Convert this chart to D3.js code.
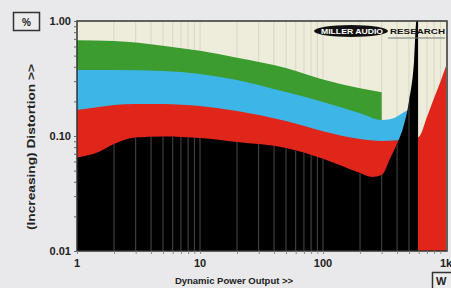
<!DOCTYPE html>
<html>
<head>
<meta charset="utf-8">
<script src="https://cdn.jsdelivr.net/npm/d3@7"></script>
<style>
html, body { margin: 0; padding: 0; background: #e9e9eb; }
svg { display: block; font-family: "Liberation Sans", Arial, sans-serif; font-weight: bold; }
</style>
</head>
<body>
<svg width="451" height="288"></svg>
<script>
// power (W) and distortion (fraction shown as %)
const greenW = [1, 2, 5, 10, 20, 50, 100, 200, 300];
const greenD = [0.68, 0.67, 0.61, 0.55, 0.48, 0.39, 0.31, 0.26, 0.24];

const blueW = [1, 2, 5, 10, 20, 50, 100, 200, 300, 350, 400, 450, 500, 560];
const blueD = [0.375, 0.375, 0.367, 0.346, 0.307, 0.241, 0.198, 0.158, 0.138, 0.14, 0.148, 0.16, 0.168, 0.17];

const redW = [1, 1.5, 2, 3, 5, 10, 20, 50, 100, 200, 300, 400, 500, 600, 700, 800, 900, 1000];
const redD = [0.168, 0.179, 0.186, 0.19, 0.19, 0.182, 0.165, 0.135, 0.11, 0.094, 0.0905, 0.092, 0.094, 0.098, 0.146, 0.214, 0.295, 0.406];

const blackW = [1, 1.5, 2, 3, 5, 10, 20, 50, 100, 200, 250, 300, 350, 400, 450, 500, 550, 575, 592];
const blackD = [0.065, 0.0726, 0.085, 0.097, 0.099, 0.096, 0.0885, 0.0787, 0.0635, 0.0477, 0.044, 0.0458, 0.063, 0.086, 0.12, 0.2, 0.45, 1.0, 1.0];

const xTicks = [1, 10, 100, 1000];
const xTickLabels = ["1", "10", "100", "1k"];
const yTicks = [0.01, 0.1, 1];
const yTickLabels = ["0.01", "0.10", "1.00"];

const svg = d3.select("svg");
const pLeft = 77, pRight = 447, pTop = 21, pBottom = 251;

const x = d3.scaleLog().domain([1, 1000]).range([pLeft, 446]);
const y = d3.scaleLog().domain([0.01, 1]).range([pBottom, pTop]);

// minor positions for log grid
const minorX = [];
[1, 10, 100].forEach(k => { for (let m = 1; m <= 9; m++) if (m * k > 1) minorX.push(m * k); });
const minorY = [];
[0.01, 0.1].forEach(k => { for (let m = 1; m <= 9; m++) minorY.push(m * k); });

const defs = svg.append("defs");
defs.append("clipPath").attr("id", "plot")
  .append("rect").attr("x", pLeft).attr("y", pTop).attr("width", pRight - pLeft).attr("height", pBottom - pTop);

const g = svg.append("g").attr("clip-path", "url(#plot)");

g.append("rect").attr("x", pLeft).attr("y", pTop).attr("width", pRight - pLeft).attr("height", pBottom - pTop)
  .attr("fill", "#eeeddc");

g.selectAll(".gridBg").data(minorX).enter().append("line")
  .attr("x1", d => x(d)).attr("x2", d => x(d)).attr("y1", pTop).attr("y2", pBottom)
  .attr("stroke", "#d8d7c6").attr("stroke-width", 1);

const area = d3.area()
  .x(d => x(d[0]))
  .y0(pBottom)
  .y1(d => y(Math.min(d[1], 1)))
  .curve(d3.curveMonotoneX);

const series = [
  { w: greenW, d: greenD, color: "#3c9c30" },
  { w: blueW, d: blueD, color: "#3db5e6" },
  { w: redW, d: redD, color: "#e0261b" },
  { w: blackW, d: blackD, color: "#000000" }
];

series.forEach(s => {
  g.append("path")
    .datum(d3.zip(s.w, s.d))
    .attr("d", area)
    .attr("fill", s.color);
});

// grid lines show through the black area
defs.append("clipPath").attr("id", "blackClip")
  .append("path").attr("d", area(d3.zip(blackW, blackD)));

g.append("g").attr("clip-path", "url(#blackClip)")
  .selectAll("line").data(minorX).enter().append("line")
  .attr("x1", d => x(d)).attr("x2", d => x(d)).attr("y1", pTop).attr("y2", pBottom)
  .attr("stroke", "#4a4a4a").attr("stroke-width", 1);

// border
svg.append("rect").attr("x", pLeft).attr("y", pTop).attr("width", pRight - pLeft).attr("height", pBottom - pTop)
  .attr("fill", "none").attr("stroke", "#333").attr("stroke-width", 1.5);

// axes
const yAxis = svg.append("g").attr("transform", `translate(${pLeft},0)`)
  .call(d3.axisLeft(y).tickValues(minorY.concat([1])).tickSize(3).tickFormat(""));
yAxis.select(".domain").remove();
yAxis.selectAll("line").attr("stroke", "#666");

const xAxis = svg.append("g").attr("transform", `translate(0,${pBottom})`)
  .call(d3.axisBottom(x).tickValues(minorX.concat([1])).tickSize(3).tickFormat(""));
xAxis.select(".domain").remove();
xAxis.selectAll("line").attr("stroke", "#888");

svg.selectAll(".ylab").data(yTicks).enter().append("text")
  .attr("x", 71).attr("y", d => y(d) + 4).attr("text-anchor", "end")
  .attr("font-size", 11).attr("fill", "#222")
  .text((d, i) => yTickLabels[i]);

svg.selectAll(".xlab").data(xTicks).enter().append("text")
  .attr("x", d => x(d)).attr("y", 267).attr("text-anchor", "middle")
  .attr("font-size", 11).attr("fill", "#222")
  .text((d, i) => xTickLabels[i]);

svg.append("text").attr("x", 234).attr("y", 284).attr("text-anchor", "middle")
  .attr("font-size", 9.5).attr("fill", "#222").text("Dynamic Power Output >>");

svg.append("text").attr("transform", "translate(35,147) rotate(-90)")
  .attr("text-anchor", "middle").attr("font-size", 11.5).attr("fill", "#222")
  .attr("textLength", 166).attr("lengthAdjust", "spacingAndGlyphs")
  .text("(Increasing) Distortion >>");

// unit boxes
svg.append("rect").attr("x", 13.5).attr("y", 12.5).attr("width", 26).attr("height", 18)
  .attr("fill", "#ececec").attr("stroke", "#333").attr("stroke-width", 1.5);
svg.append("text").attr("x", 26.5).attr("y", 25.5).attr("text-anchor", "middle")
  .attr("font-size", 10).attr("fill", "#222").text("%");

svg.append("rect").attr("x", 432.5).attr("y", 272.5).attr("width", 26).attr("height", 20)
  .attr("fill", "#ececec").attr("stroke", "#333").attr("stroke-width", 1.5);
svg.append("text").attr("x", 436).attr("y", 285).attr("font-size", 11).attr("fill", "#222").text("W");

// logo
svg.append("ellipse").attr("cx", 351).attr("cy", 31).attr("rx", 37).attr("ry", 6).attr("fill", "#111");
svg.append("text").attr("x", 321).attr("y", 34).attr("font-size", 7.5).attr("fill", "#fff")
  .attr("textLength", 62).attr("lengthAdjust", "spacingAndGlyphs").text("MILLER AUDIO");
svg.append("text").attr("x", 390).attr("y", 34).attr("font-size", 7.5).attr("fill", "#111")
  .attr("textLength", 55).attr("lengthAdjust", "spacingAndGlyphs").text("RESEARCH");
svg.append("line").attr("x1", 388).attr("x2", 445).attr("y1", 38).attr("y2", 38)
  .attr("stroke", "#777").attr("stroke-width", 1);
</script>
</body>
</html>
